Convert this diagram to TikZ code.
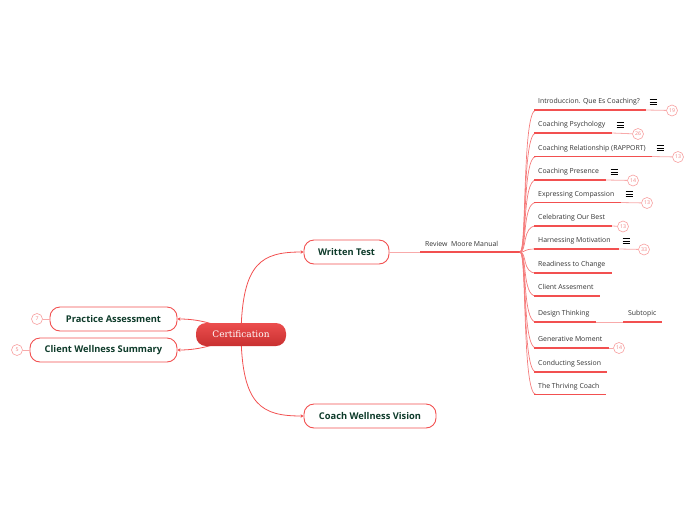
\documentclass[tikz,border=0pt]{standalone}
\usepackage{fontspec}
\usetikzlibrary{arrows.meta,backgrounds}
\newfontfamily\tfont{Open Sans}
\newfontfamily\sfont{Open Sans}
\newfontfamily\cfont{DejaVu Serif}
\definecolor{redline}{RGB}{242,80,80}
\definecolor{pinkline}{RGB}{248,170,170}
\definecolor{pinkc}{RGB}{248,160,160}
\definecolor{pinkt}{RGB}{240,130,130}
\definecolor{darkgreen}{RGB}{14,59,42}
\definecolor{greytext}{RGB}{51,51,51}
\tikzset{
 topic/.style={draw=redline, line width=0.9pt, rounded corners=10pt, fill=white, text=darkgreen, font=\tfont\bfseries\fontsize{9.3}{11}\selectfont, minimum height=24pt, inner sep=0pt},
 subt/.style={font=\sfont\fontsize{6.9}{8}\selectfont, text=greytext, inner sep=0pt, anchor=base west},
 num/.style={circle, draw=pinkc, line width=0.6pt, text=pinkt, font=\sfont\fontsize{5.2}{6}\selectfont, minimum size=11pt, inner sep=0pt, fill=white},
 uline/.style={draw=redline, line width=1.8pt},
 light/.style={draw=pinkline, line width=0.8pt},
 branch/.style={draw=redline!75, line width=0.7pt},
 mainb/.style={draw=redline, line width=0.8pt},
 tip/.style={-{Stealth[length=3pt,width=3.5pt]}},
 menu/.pic={\draw[line width=0.6pt, black] (-3.5,-2.6)--(3.5,-2.6) (-3.5,0)--(3.5,0) (-3.5,2.6)--(3.5,2.6);}
}
\begin{document}
\begin{tikzpicture}[x=1pt,y=-1pt]
\useasboundingbox (0,0) rectangle (696,520);
% main nodes
\node[draw=none, rounded corners=10pt, top color={rgb,255:red,236;green,78;blue,78}, bottom color={rgb,255:red,200;green,48;blue,48}, text=white, font=\cfont\fontsize{9}{11}\selectfont, minimum width=90pt, minimum height=23pt, inner sep=0pt] (cert) at (241,334.5) {Certification};
\node[topic, minimum width=85pt] (wt) at (346.5,252) {Written Test};
\node[topic, minimum width=132pt] (cwv) at (370,416) {Coach Wellness Vision};
\node[topic, minimum width=127pt] (pa) at (113.5,319) {Practice Assessment};
\node[topic, minimum width=147pt] (cws) at (103.5,350) {Client Wellness Summary};
\node[num] (n7) at (37,319) {7};
\node[num] (n5) at (17,350) {5};
\draw[light] (n7) -- (pa.west);
\draw[light] (n5) -- (cws.west);
\begin{scope}[on background layer]
\draw[mainb, tip] (cert.center) .. controls (242,262) and (262,252) .. (wt.west);
\draw[mainb, tip] (cert.center) .. controls (242,406) and (262,416) .. (cwv.west);
\draw[mainb, tip] (cert.center) .. controls (215,324) and (200,319) .. (pa.east);
\draw[mainb, tip] (cert.center) .. controls (215,345) and (200,350) .. (cws.east);
\end{scope}
% review
\coordinate (rv) at (420,252);
\coordinate (root) at (520,252);
\draw[light] (wt.east) -- (rv);
\draw[uline] (rv) -- (root);
\node[subt] (review) at (425,246.5) {Review\ \ Moore Manual};
% subtopics
\foreach \i/\yu/\ex/\txt in {
 1/110/646/{Introduccion. Que Es Coaching?},
 2/133/612/{Coaching Psychology},
 3/156.5/652/{Coaching Relationship (RAPPORT)},
 4/180/606/{Coaching Presence},
 5/202.5/621/{Expressing Compassion},
 6/226/612/{Celebrating Our Best},
 7/249/619/{Harnessing Motivation},
 8/273/612/{Readiness to Change},
 9/296/600/{Client Assesment},
 10/322/596/{Design Thinking},
 11/348/609/{Generative Moment},
 12/372/607/{Conducting Session},
 13/394.5/606/{The Thriving Coach}}{
 \coordinate (a\i) at (534,\yu);
 \coordinate (e\i) at (\ex,\yu);
 \draw[branch] (root) .. controls (527,252) and (522,\yu) .. (536,\yu);
 \draw[uline] (a\i) -- (e\i);
 \node[subt] (s\i) at (538,\yu-6.5) {\txt};
}
% numbered circles
\foreach \i/\cx/\cy/\n in {1/672/110.5/19, 2/638/134/26, 3/678/157/13, 4/633/180.5/14, 5/647/203/13, 6/623/226.5/13, 7/644/249.5/33, 11/619/348/14}{
 \node[num] (c\i) at (\cx,\cy) {\n};
 \begin{scope}[on background layer]
 \draw[light] (e\i) -- (c\i);
 \end{scope}
}
% menu icons
\foreach \i/\mx/\my in {1/653/102, 2/620/125, 3/660/148, 4/614/172, 5/629/194, 7/626/241}{
 \pic (m\i) at (\mx,\my) {menu};
}
% subtopic of design thinking
\coordinate (st1) at (623,322);
\coordinate (st2) at (662,322);
\draw[light] (e10) -- (st1);
\draw[uline] (st1) -- (st2);
\node[subt] (sub) at (628,315.5) {Subtopic};
\end{tikzpicture}
\end{document}
